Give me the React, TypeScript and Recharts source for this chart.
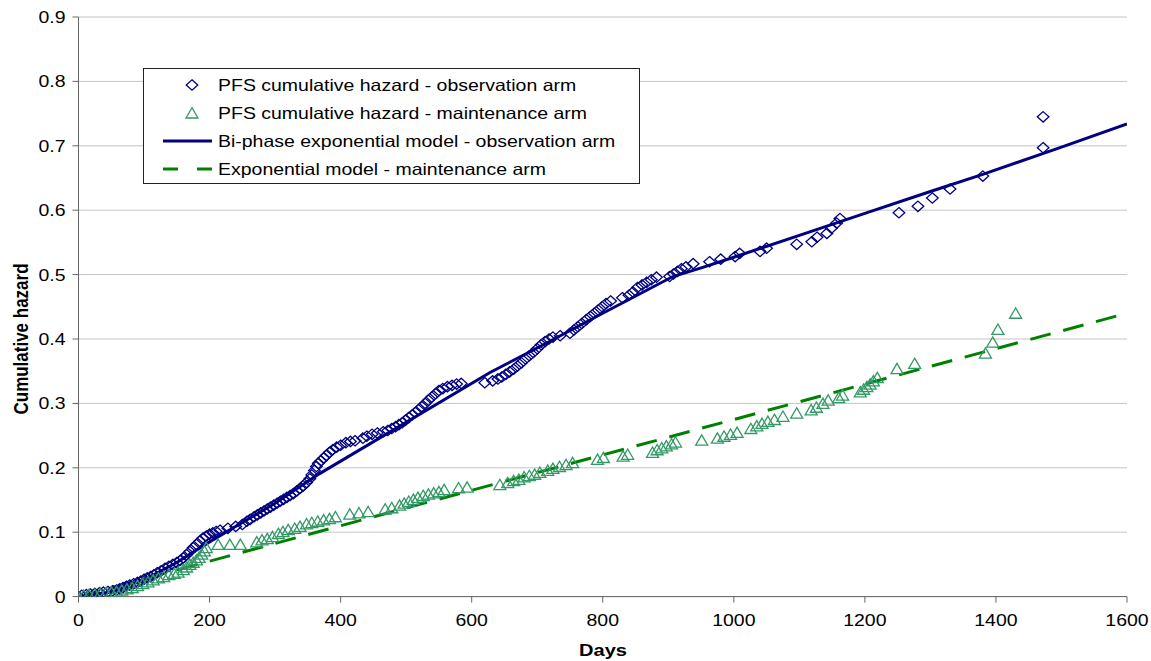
import { ComposedChart, Scatter, Line, XAxis, YAxis, CartesianGrid, Legend } from "recharts";

// observation arm (diamonds)
const obsDays = [
  0, 5, 12, 18, 25, 32, 38, 45, 52, 58, 63, 68, 73, 78, 84, 90, 95, 100, 105, 110,
  115, 120, 126, 132, 138, 144, 150, 155, 160, 165, 170, 175, 180, 185, 190, 195, 200, 205, 210, 216,
  228, 240, 250, 257, 262, 268, 273, 278, 283, 288, 293, 298, 303, 308, 313, 318, 323, 328, 333, 338,
  343, 348, 353, 356, 360, 363, 366, 370, 374, 378, 383, 388, 394, 400, 408, 415, 422, 434, 440, 448,
  456, 465, 472, 478, 484, 489, 494, 499, 504, 509, 514, 519, 524, 529, 534, 539, 545, 550, 556, 563,
  570, 577, 584, 620, 632, 640, 646, 652, 658, 664, 670, 676, 682, 688, 694, 700, 706, 712, 718, 724,
  735, 750, 756, 762, 768, 775, 781, 787, 793, 799, 805, 812, 830, 840, 846, 853, 860, 867, 874, 882,
  902, 908, 914, 920, 927, 938, 963, 980, 1002, 1009, 1040, 1050, 1096, 1119, 1127, 1142, 1149, 1157, 1162, 1252,
  1281, 1303, 1330, 1380, 1472, 1472,
];
const obsHazard = [
  0, 0.002, 0.003, 0.004, 0.005, 0.006, 0.007, 0.008, 0.009, 0.01, 0.012, 0.014, 0.016, 0.018, 0.02, 0.022, 0.024, 0.027, 0.029, 0.031,
  0.034, 0.037, 0.04, 0.044, 0.047, 0.05, 0.053, 0.056, 0.06, 0.065, 0.07, 0.076, 0.081, 0.086, 0.091, 0.094, 0.097, 0.099, 0.101, 0.103,
  0.106, 0.109, 0.112, 0.117, 0.12, 0.124, 0.127, 0.13, 0.133, 0.136, 0.139, 0.142, 0.145, 0.148, 0.151, 0.154, 0.157, 0.16, 0.164, 0.168,
  0.172, 0.177, 0.183, 0.189, 0.196, 0.202, 0.207, 0.211, 0.215, 0.219, 0.224, 0.228, 0.232, 0.235, 0.239, 0.241, 0.242, 0.246, 0.249, 0.252,
  0.254, 0.256, 0.258, 0.261, 0.264, 0.267, 0.27, 0.274, 0.278, 0.282, 0.286, 0.29, 0.295, 0.3, 0.305, 0.31, 0.315, 0.32, 0.323, 0.326,
  0.328, 0.33, 0.331, 0.332, 0.335, 0.338, 0.341, 0.345, 0.349, 0.353, 0.358, 0.363, 0.369, 0.374, 0.379, 0.385, 0.391, 0.396, 0.4, 0.403,
  0.405, 0.409, 0.414, 0.419, 0.424, 0.43, 0.435, 0.44, 0.445, 0.45, 0.455, 0.459, 0.464, 0.468, 0.473, 0.48, 0.484, 0.488, 0.492, 0.496,
  0.497, 0.501, 0.505, 0.509, 0.512, 0.517, 0.52, 0.524, 0.528, 0.533, 0.536, 0.541, 0.547, 0.551, 0.558, 0.564, 0.572, 0.58, 0.587, 0.596,
  0.606, 0.619, 0.633, 0.653, 0.697, 0.745,
];

// maintenance arm (triangles)
const maintDays = [
  0, 8, 16, 25, 33, 42, 50, 58, 66, 74, 82, 90, 98, 106, 114, 122, 130, 138, 146, 152,
  160, 165, 170, 175, 180, 184, 188, 192, 195, 213, 231, 247, 272, 280, 288, 296, 305, 312, 320, 330,
  338, 348, 356, 365, 374, 383, 392, 414, 428, 442, 468, 478, 490, 497, 504, 511, 518, 526, 534, 542,
  550, 558, 580, 593, 643, 655, 664, 672, 680, 688, 696, 704, 716, 724, 734, 744, 754, 792, 801, 831,
  838, 876, 883, 890, 897, 905, 911, 951, 975, 985, 995, 1005, 1026, 1035, 1043, 1052, 1062, 1075, 1096, 1118,
  1126, 1136, 1144, 1160, 1166, 1193, 1198, 1203, 1208, 1213, 1219, 1249, 1276, 1384, 1395, 1403, 1430,
];
const maintHazard = [
  0, 0.002, 0.003, 0.004, 0.005, 0.006, 0.007, 0.008, 0.01, 0.012, 0.014, 0.017, 0.02, 0.023, 0.026, 0.029, 0.031, 0.034, 0.036, 0.038,
  0.042, 0.046, 0.05, 0.053, 0.057, 0.061, 0.066, 0.071, 0.076, 0.081, 0.081, 0.081, 0.085, 0.088, 0.09, 0.093, 0.098, 0.101, 0.104, 0.106,
  0.109, 0.113, 0.115, 0.117, 0.119, 0.121, 0.124, 0.128, 0.13, 0.132, 0.136, 0.138, 0.142, 0.145, 0.148, 0.151, 0.154, 0.157, 0.159, 0.161,
  0.163, 0.166, 0.169, 0.17, 0.174, 0.177, 0.18, 0.182, 0.186, 0.188, 0.19, 0.193, 0.196, 0.199, 0.202, 0.205, 0.208, 0.213, 0.216, 0.218,
  0.221, 0.224, 0.228, 0.231, 0.234, 0.237, 0.24, 0.243, 0.246, 0.249, 0.252, 0.255, 0.261, 0.265, 0.269, 0.272, 0.275, 0.28, 0.285, 0.29,
  0.294, 0.3, 0.305, 0.309, 0.313, 0.318, 0.322, 0.326, 0.33, 0.335, 0.34, 0.354, 0.362, 0.378, 0.395, 0.415, 0.44,
];

// fitted models
const obsModelDays = [0, 50, 100, 150, 200, 250, 300, 368, 628, 700, 800, 907, 949, 1000, 1100, 1200, 1300, 1381, 1500, 1600];
const obsModelHazard = [0, 0.007, 0.026, 0.053, 0.085, 0.115, 0.145, 0.191, 0.348, 0.386, 0.44, 0.497, 0.51, 0.527, 0.561, 0.595, 0.629, 0.656, 0.698, 0.734];
const maintModelDays = [0, 200, 400, 600, 800, 1000, 1200, 1400, 1600];
const maintModelHazard = [0, 0.055, 0.11, 0.165, 0.22, 0.275, 0.33, 0.385, 0.44];

const xTicks = [0, 200, 400, 600, 800, 1000, 1200, 1400, 1600];
const yTicks = [0, 0.1, 0.2, 0.3, 0.4, 0.5, 0.6, 0.7, 0.8, 0.9];

const legendItems = [
  { label: "PFS cumulative hazard - observation arm", kind: "diamond" },
  { label: "PFS cumulative hazard - maintenance arm", kind: "triangle" },
  { label: "Bi-phase exponential model - observation arm", kind: "solid" },
  { label: "Exponential model - maintenance arm", kind: "dashed" },
];

const zip = (xs: number[], ys: number[]) => xs.map((x, i) => ({ x, y: ys[i] }));

const obsData = zip(obsDays, obsHazard);
const maintData = zip(maintDays, maintHazard);
const obsModel = zip(obsModelDays, obsModelHazard);
const maintModel = zip(maintModelDays, maintModelHazard);

const NAVY = "#000080";
const SEA = "#339966";
const GREEN = "#008000";
const FONT = "'Liberation Sans', Arial, sans-serif";
const STRETCH = 1.18;

const Diamond = (p: any) => {
  const { cx, cy } = p;
  if (cx == null || cy == null) return <g />;
  return (
    <path
      d={`M${cx},${cy - 5.2}L${cx + 5.8},${cy}L${cx},${cy + 5.2}L${cx - 5.8},${cy}Z`}
      fill="none"
      stroke={NAVY}
      strokeWidth={1.3}
    />
  );
};

const Triangle = (p: any) => {
  const { cx, cy } = p;
  if (cx == null || cy == null) return <g />;
  return (
    <path
      d={`M${cx},${cy - 5.3}L${cx + 6},${cy + 5}L${cx - 6},${cy + 5}Z`}
      fill="none"
      stroke={SEA}
      strokeWidth={1.3}
    />
  );
};

const XTick = (p: any) => (
  <g transform={`translate(${p.x},${p.y})`}>
    <text transform={`scale(${STRETCH},1)`} textAnchor="middle" dy="0.71em" fontSize={16.5} fontFamily={FONT} fill="#000">
      {p.payload.value}
    </text>
  </g>
);

const YTick = (p: any) => (
  <g transform={`translate(${p.x},${p.y})`}>
    <text transform={`scale(${STRETCH},1)`} textAnchor="end" dy="0.36em" fontSize={16.5} fontFamily={FONT} fill="#000">
      {p.payload.value === 0 ? "0" : p.payload.value.toFixed(1)}
    </text>
  </g>
);

function LegendBox() {
  return (
    <div
      style={{
        width: 495,
        height: 112,
        border: "1px solid #222",
        background: "#fff",
        paddingTop: 2,
        boxSizing: "content-box",
        fontFamily: FONT,
      }}
    >
      {legendItems.map((it) => (
        <div key={it.label} style={{ position: "relative", height: 28, display: "flex", alignItems: "center" }}>
          <svg width={70} height={28} style={{ flex: "none" }}>
            {it.kind === "diamond" && (
              <path d="M48,8.8L53.8,14L48,19.2L42.2,14Z" fill="none" stroke={NAVY} strokeWidth={1.3} />
            )}
            {it.kind === "triangle" && (
              <path d="M48,8.7L54,19L42,19Z" fill="none" stroke={SEA} strokeWidth={1.3} />
            )}
            {it.kind === "solid" && <line x1={19} y1={14} x2={68} y2={14} stroke={NAVY} strokeWidth={3} />}
            {it.kind === "dashed" && (
              <line x1={19} y1={14} x2={68} y2={14} stroke={GREEN} strokeWidth={3} strokeDasharray="15 19" />
            )}
          </svg>
          <span
            style={{
              fontSize: 16.5,
              color: "#000",
              whiteSpace: "nowrap",
              transform: `scaleX(${STRETCH})`,
              transformOrigin: "left center",
              marginLeft: 4,
            }}
          >
            {it.label}
          </span>
        </div>
      ))}
    </div>
  );
}

export default function App() {
  return (
    <div style={{ width: 1151, height: 661, background: "#fff" }}>
      <style>{`body{margin:0}`}</style>
      <ComposedChart width={1151} height={661} margin={{ top: 17, right: 24, bottom: 0, left: 0 }}>
        <CartesianGrid vertical={false} stroke="#c4c4c4" strokeWidth={1} />
        <XAxis
          dataKey="x"
          type="number"
          domain={[0, 1600]}
          ticks={xTicks}
          height={64.4}
          tickSize={6}
          tickMargin={12}
          stroke="#666"
          tick={<XTick />}
          allowDataOverflow
          label={{
            content: () => (
              <text
                transform={`translate(603,656) scale(${STRETCH},1)`}
                textAnchor="middle"
                fontSize={17}
                fontWeight="bold"
                fontFamily={FONT}
                fill="#000"
              >
                Days
              </text>
            ),
          }}
        />
        <YAxis
          dataKey="y"
          type="number"
          domain={[0, 0.9]}
          ticks={yTicks}
          width={78.5}
          tickSize={6}
          tickMargin={7}
          stroke="#666"
          tick={<YTick />}
          allowDataOverflow
          label={{
            content: () => (
              <text
                transform={`translate(27.5,339) scale(${STRETCH},1) rotate(-90)`}
                textAnchor="middle"
                fontSize={17}
                fontWeight="bold"
                fontFamily={FONT}
                fill="#000"
              >
                Cumulative hazard
              </text>
            ),
          }}
        />
        <Legend
          layout="vertical"
          align="center"
          verticalAlign="middle"
          wrapperStyle={{ left: 143, top: 68, width: 497, height: 116 }}
          content={() => <LegendBox />}
        />
        <Scatter name="obs" data={obsData} dataKey="y" shape={<Diamond />} isAnimationActive={false} />
        <Scatter name="maint" data={maintData} dataKey="y" shape={<Triangle />} isAnimationActive={false} />
        <Line
          data={obsModel}
          dataKey="y"
          type="linear"
          stroke={NAVY}
          strokeWidth={3}
          dot={false}
          activeDot={false}
          isAnimationActive={false}
        />
        <Line
          data={maintModel}
          dataKey="y"
          type="linear"
          stroke={GREEN}
          strokeWidth={3}
          strokeDasharray="21 13"
          dot={false}
          activeDot={false}
          isAnimationActive={false}
        />
      </ComposedChart>
    </div>
  );
}
